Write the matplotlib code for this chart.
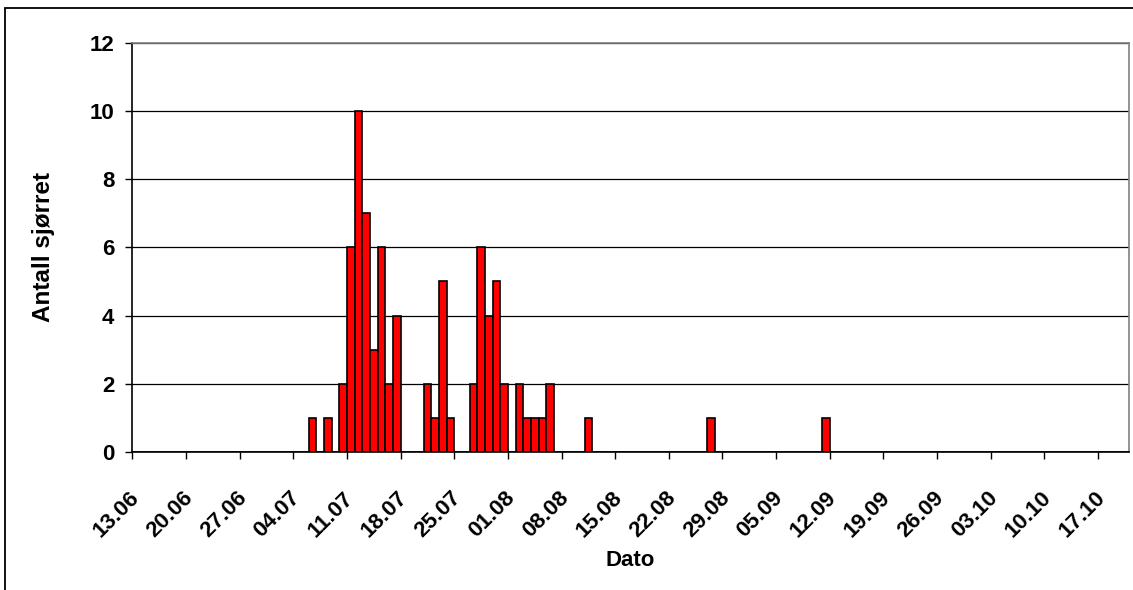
import numpy as np
import pandas as pd
import matplotlib
matplotlib.use('Agg')
import matplotlib.pyplot as plt
from matplotlib.patches import Rectangle
from matplotlib.transforms import ScaledTranslation

plt.rcParams['font.family'] = ['Liberation Sans', 'DejaVu Sans']
plt.rcParams['font.weight'] = 'bold'

# catch per day (only days with fish)
catch_dates = ['06.07', '08.07', '10.07', '11.07', '12.07', '13.07', '14.07',
               '15.07', '16.07', '17.07', '21.07', '22.07', '23.07', '24.07',
               '27.07', '28.07', '29.07', '30.07', '31.07', '02.08', '03.08',
               '04.08', '05.08', '06.08', '11.08', '27.08', '11.09']
catch_counts = [1, 1, 2, 6, 10, 7, 3,
                6, 2, 4, 2, 1, 5, 1,
                2, 6, 4, 5, 2, 2, 1,
                1, 1, 2, 1, 1, 1]

# daily category axis 13.06 - 20.10
days = pd.date_range('2007-06-13', '2007-10-20', freq='D')
day_labels = [d.strftime('%d.%m') for d in days]
counts = np.zeros(len(days))
for dt, c in zip(catch_dates, catch_counts):
    counts[day_labels.index(dt)] = c

fig = plt.figure(figsize=(11.33, 5.90), dpi=100)
ax = fig.add_axes([0.1168, 0.2339, 0.8794, 0.6937])

x = np.arange(len(days))
ax.bar(x, counts, width=1.0, color='#ff0000', edgecolor='black', linewidth=1.2, zorder=3)

ax.set_xlim(-0.5, len(days) - 0.5)
ax.set_ylim(0, 12)
ax.set_yticks(range(0, 13, 2))
ax.yaxis.grid(True, color='black', linewidth=0.9, zorder=0)

ax.set_xticks(x[::7])
ax.set_xticklabels(day_labels[::7], rotation=45, ha='right', va='center',
                   rotation_mode='anchor', fontsize=16, fontweight='bold')
shift = ScaledTranslation(-3 / 100, 0, fig.dpi_scale_trans)
for lab in ax.get_xticklabels():
    lab.set_transform(lab.get_transform() + shift)
ax.set_xticks(np.arange(-0.5, len(days), 7), minor=True)
ax.tick_params(axis='x', which='major', length=0, pad=31)
ax.tick_params(axis='x', which='minor', length=5, width=1, direction='out')
ax.tick_params(axis='y', length=5, width=1, pad=8, labelsize=16)

for s in ['top', 'right']:
    ax.spines[s].set_color('#808080')
    ax.spines[s].set_linewidth(1.2)
for s in ['left', 'bottom']:
    ax.spines[s].set_linewidth(1.2)

ax.set_xlabel('Dato', fontsize=16, fontweight='bold', va='center')
ax.xaxis.set_label_coords(0.5, -0.264)
ax.set_ylabel('Antall sjørret', fontsize=17.5, fontweight='bold', va='center')
ax.yaxis.set_label_coords(-0.0896, 0.5)

fig.patches.append(Rectangle((5 / 1133, -0.1), 1.2, 1.1 - 8 / 590, transform=fig.transFigure,
                             fill=False, edgecolor='black', linewidth=1.3))

fig.savefig('out.png', dpi=100)
